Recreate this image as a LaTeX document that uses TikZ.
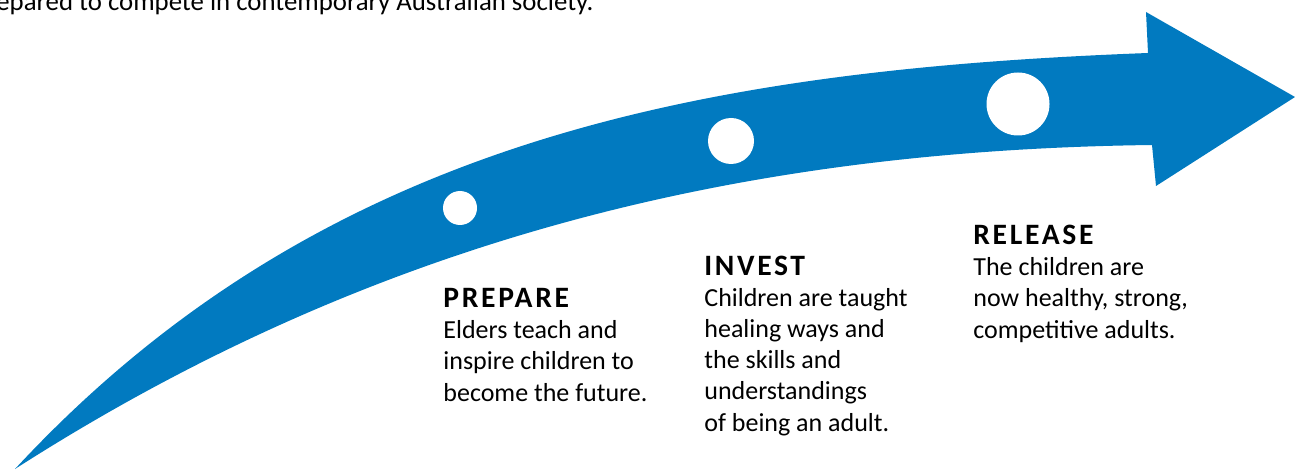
\documentclass[tikz,border=0pt]{standalone}
\usepackage{fontspec}
\setmainfont{Carlito}
\newfontfamily\headfont[LetterSpace=9]{Carlito}
\usepackage{xcolor}
\usepackage{tikz}
\usetikzlibrary{positioning,calc}
\definecolor{arrblue}{RGB}{1,122,192}
\newcommand\stghd[1]{{\headfont\bfseries\fontsize{14.8}{15.6}\selectfont #1}}
\tikzset{
  arr/.style     = {fill=arrblue, draw=none},
  dot/.style     = {circle, fill=white, inner sep=0pt},
  stg/.style     = {anchor=base west, inner sep=0pt, align=left,
                    font=\fontsize{13}{15.6}\selectfont},
}

\begin{document}
\begin{tikzpicture}[x=0.5pt,y=-0.5pt]
  \useasboundingbox (0,0) rectangle (1295,470);
  % intro line, cut at the top
  \node[stg, font=\fontsize{13.4}{15.6}\selectfont] (intro) at (-4,11) {epared to compete in contemporary Australian society.};
  % arrow
  \fill[arr] (15,469) .. controls (320,140) and (700,70) .. (1148,53)
    -- (1146,12) -- (1295,97) -- (1156,186) -- (1152,145)
    .. controls (750,150) and (380,235) .. (15,469) -- cycle;
  \node[dot, minimum size=17pt] (d1) at (460,208) {};
  \node[dot, minimum size=23pt] (d2) at (731,141) {};
  \node[dot, minimum size=31.5pt] (d3) at (1018,104) {};
  % stages (base = last line)
  \node[stg] (prep) at (443,401) {\stghd{PREPARE}\\Elders teach and\\inspire children to\\become the future.};
  \node[stg] (inv) at (704,431) {\stghd{INVEST}\\Children are taught\\healing ways and\\the skills and\\understandings\\of being an adult.};
  \node[stg] (rel) at (973,338) {\stghd{RELEASE}\\The children are\\now healthy, strong,\\competitive adults.};
\end{tikzpicture}
\end{document}
